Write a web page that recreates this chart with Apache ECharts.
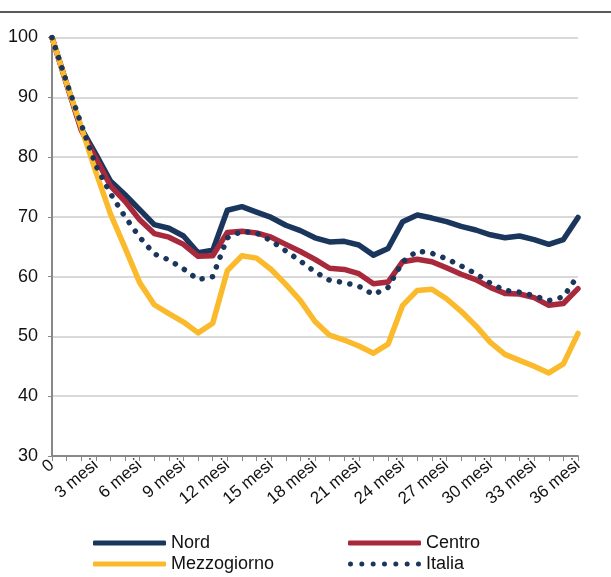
<!DOCTYPE html>
<html>
<head>
<meta charset="utf-8">
<script src="https://cdn.jsdelivr.net/npm/echarts@6/dist/echarts.min.js"></script>
<style>
  html, body { margin: 0; padding: 0; background: #fff; }
  #chart { width: 611px; height: 577px; }
</style>
</head>
<body>
<div id="chart"></div>
<script>
// mesi dalla partenza (0..36)
const months = [0, 1, 2, 3, 4, 5, 6, 7, 8, 9, 10, 11, 12, 13, 14, 15, 16, 17, 18,
  19, 20, 21, 22, 23, 24, 25, 26, 27, 28, 29, 30, 31, 32, 33, 34, 35, 36]
const yTicks = [30, 40, 50, 60, 70, 80, 90, 100]

const nord = [100, 92.3, 84.8, 80.5, 76, 73.7, 71.2, 68.7, 68.1, 66.8, 64, 64.4, 71.1,
  71.7, 70.8, 69.9, 68.6, 67.7, 66.5, 65.8, 65.9, 65.3, 63.6, 64.7, 69.2, 70.3, 69.8,
  69.2, 68.4, 67.8, 67.0, 66.5, 66.8, 66.2, 65.4, 66.2, 69.9]
const centro = [100, 92.2, 84.5, 79.8, 75.2, 72.6, 69.5, 67.2, 66.6, 65.4, 63.4, 63.5, 67.4,
  67.6, 67.3, 66.6, 65.4, 64.2, 62.9, 61.4, 61.2, 60.5, 58.8, 59.1, 62.5, 62.9, 62.5,
  61.5, 60.4, 59.5, 58.2, 57.2, 57.1, 56.5, 55.2, 55.5, 58.0]
const mezzogiorno = [100, 92.3, 85, 77.5, 70.5, 64.8, 59, 55.3, 53.8, 52.4, 50.6, 52.2, 61,
  63.5, 63.1, 61.2, 58.7, 56.0, 52.5, 50.2, 49.4, 48.4, 47.2, 48.7, 55.2, 57.7, 57.9,
  56.3, 54.2, 51.8, 49.0, 47.0, 46.0, 45.0, 43.9, 45.4, 50.5]
const italia = [100, 92.5, 85.5, 78.6, 73.9, 70.0, 66.6, 63.8, 62.8, 61.3, 59.5, 60.0, 66.5,
  67.6, 67.3, 66.0, 64.3, 62.6, 60.8, 59.4, 59.0, 58.4, 57.0, 58.2, 62.5, 64.3, 63.9,
  63.0, 61.8, 60.5, 58.9, 57.7, 57.4, 56.8, 56.0, 56.6, 60.2]

const navy = '#1b365d'
const red = '#a8293c'
const yellow = '#fbb92c'
const font = 'Liberation Sans, Arial, sans-serif'

// icona a puntini per la legenda di Italia (7 cerchi in un box 73x5)
let dots = ''
for (let i = 0; i < 7; i++) {
  const cx = 2.5 + i * 11.33
  dots += `M${cx - 2.5},2.5a2.5,2.5 0 1,0 5,0a2.5,2.5 0 1,0 -5,0z`
}

const chart = echarts.init(document.getElementById('chart'))

const lineSeries = (name, data, color, dotted) => ({
  name,
  type: 'line',
  data,
  symbol: 'none',
  smooth: false,
  lineStyle: dotted
    ? { color, width: 5.5, type: [0.1, 10.5], cap: 'round' }
    : { color, width: 5.5, cap: 'round', join: 'round' },
  itemStyle: { color }
})

const legendItem = (name, left, top, icon) => ({
  data: [{ name, icon }],
  left, top,
  itemWidth: 73, itemHeight: 5,
  textStyle: { fontFamily: font, fontSize: 18, color: '#111' }
})

chart.setOption({
  animation: false,
  grid: { left: 52, right: 33, top: 37.5, bottom: 121 },
  graphic: [{
    type: 'line',
    shape: { x1: 0, y1: 12, x2: 611, y2: 12 },
    style: { stroke: '#222', lineWidth: 1.5 }
  }],
  legend: [
    legendItem('Nord', 88, 529, 'roundRect'),
    legendItem('Mezzogiorno', 88, 550, 'roundRect'),
    legendItem('Centro', 343, 529, 'roundRect'),
    legendItem('Italia', 343, 550, 'path://' + dots)
  ],
  xAxis: {
    type: 'category',
    data: months,
    boundaryGap: false,
    axisLine: { lineStyle: { color: '#888', width: 2 } },
    axisTick: { show: true, interval: 0, length: 5, lineStyle: { color: '#888', width: 1 } },
    axisLabel: {
      interval: 2,
      rotate: 40,
      margin: 7,
      fontFamily: font,
      fontSize: 17,
      color: '#111',
      formatter: v => (v === '0' || v === 0) ? '0' : v + ' mesi'
    },
    splitLine: { show: false }
  },
  yAxis: {
    type: 'value',
    min: yTicks[0],
    max: yTicks[yTicks.length - 1],
    interval: 10,
    axisLine: { show: true, lineStyle: { color: '#888', width: 2 } },
    axisTick: { show: true, length: 4, lineStyle: { color: '#888' } },
    axisLabel: { margin: 14, fontFamily: font, fontSize: 18, color: '#111' },
    splitLine: { lineStyle: { color: '#d9d9d9', width: 2 } }
  },
  series: [
    lineSeries('Nord', nord, navy, false),
    lineSeries('Centro', centro, red, false),
    lineSeries('Mezzogiorno', mezzogiorno, yellow, false),
    lineSeries('Italia', italia, navy, true)
  ]
})
</script>
</body>
</html>
